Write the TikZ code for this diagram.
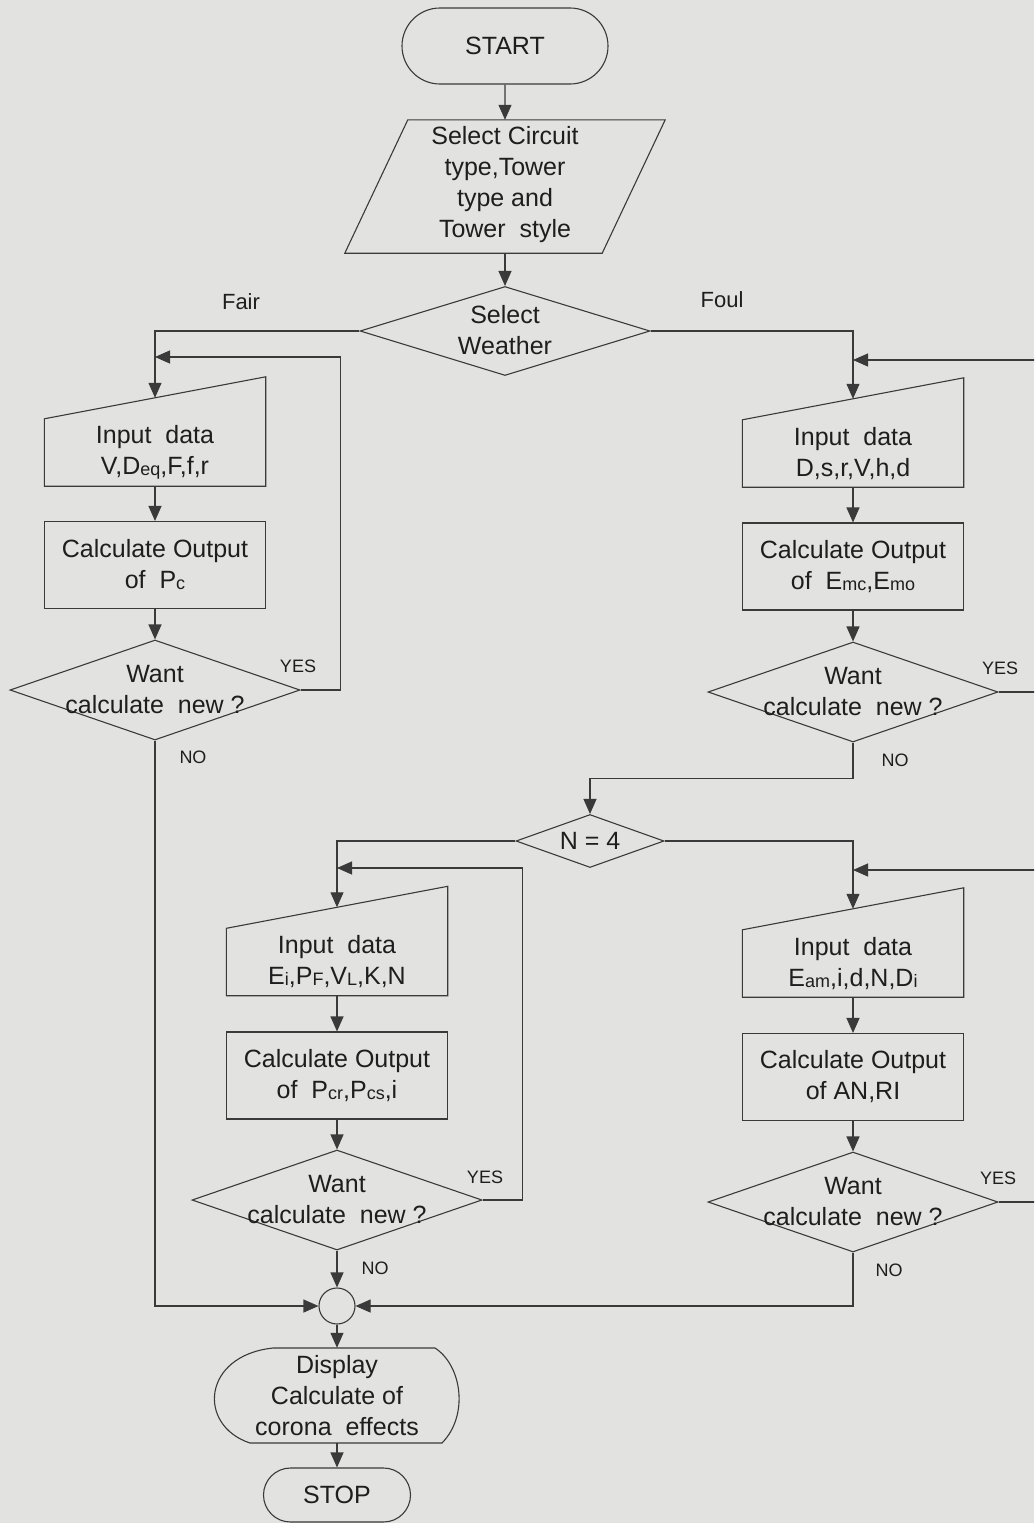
\documentclass[tikz,border=0pt]{standalone}
\usepackage{fontspec}
\setmainfont{Liberation Sans}
\usetikzlibrary{shapes.geometric,shapes.misc,arrows.meta,calc}
\definecolor{paper}{RGB}{226,226,224}
\definecolor{ink}{RGB}{58,58,58}
\definecolor{txtc}{RGB}{30,30,30}
\newcommand{\sbs}[1]{\raisebox{-1pt}{\fontsize{18}{18}\selectfont #1}}
\newcommand{\maninput}[4]{%
  \node[inv] (#1) at (#2,#3) {};
  \draw[shp] ([yshift=-42pt]#1.north west) -- (#1.south west) -- (#1.south east) -- (#1.north east) -- cycle;
  \node[txt] (#1t) at ([yshift=-21pt]#1.center) {#4};
  \coordinate (#1top) at ([yshift=-21pt]#1.north);
}
\begin{document}
\begin{tikzpicture}[x=1pt,y=-1pt,
  shp/.style={draw=ink, line width=1.1pt},
  inv/.style={rectangle, inner sep=0, minimum width=221, minimum height=109},
  txt/.style={font=\fontsize{25}{31}\selectfont, align=center, text=txtc, inner sep=0},
  lbl/.style={font=\fontsize{18}{18}\selectfont, text=txtc, inner sep=0},
  lblb/.style={font=\fontsize{22}{22}\selectfont, text=txtc, inner sep=0},
  conn/.style={draw=ink, line width=1.1pt},
  arr/.style={conn, -{Triangle[length=15pt,width=13pt]}},
  term/.style={shp, rounded rectangle, inner sep=0},
  proc/.style={shp, rectangle, minimum width=221, minimum height=87, inner sep=0},
  dec/.style={shp, diamond, inner sep=0, minimum width=290, minimum height=100},
]
\useasboundingbox (0,0) rectangle (1034,1523);
\fill[paper] (0,0) rectangle (1034,1523);
\clip (0,0) rectangle (1034,1523);

% top
\node[term, txt, minimum width=206, minimum height=76] (start) at (505,46) {START};
\node[rectangle, inner sep=0, minimum width=320, minimum height=133] (par) at (505,186.5) {};
\draw[shp] ([xshift=63pt]par.north west) -- (par.north east) -- ([xshift=-63pt]par.south east) -- (par.south west) -- cycle;
\node[txt] (part) at (505,185) {Select Circuit\\type,Tower\\type and\\Tower~ style};
\node[shp, diamond, inner sep=0, minimum width=290, minimum height=89] (wea) at (505,331) {};
\node[txt] (weat) at (505,330) {Select\\Weather};
\node[lblb] (fair) at (241,302) {Fair};
\node[lblb] (foul) at (722,300) {Foul};

% left column (fair)
\maninput{in1}{155}{431.5}{Input~~data\\V,D\sbs{eq},F,f,r}
\node[proc, txt] (calc1) at (155,565) {Calculate Output\\of~~P\sbs{c}};
\node[dec] (dec1) at (155,690) {};
\node[txt] (dec1t) at (155,690) {Want\\calculate~~new ?};
\coordinate (j1) at (155,357);
\node[lbl] (yes1) at (298,666) {YES};
\node[lbl] (no1) at (193,757) {NO};

% right column (foul)
\maninput{in2}{853}{432.5}{Input~~data\\D,s,r,V,h,d}
\node[proc, txt] (calc2) at (853,566.5) {Calculate Output\\of~~E\sbs{mc},E\sbs{mo}};
\node[dec] (dec2) at (853,692) {};
\node[txt] (dec2t) at (853,692) {Want\\calculate~~new ?};
\coordinate (j2) at (853,360);
\node[lbl] (yes2) at (1000,668) {YES};
\node[lbl] (no2) at (895,760) {NO};

% N = 4
\node[shp, diamond, inner sep=0, minimum width=148, minimum height=53] (n4) at (590,841) {};
\node[txt] (n4t) at (590,841) {N = 4};

% lower left
\maninput{in3}{337}{941}{Input~~data\\E\sbs{i},P\sbs{F},V\sbs{L},K,N}
\node[proc, txt] (calc3) at (337,1075.5) {Calculate Output\\of~~P\sbs{cr},P\sbs{cs},i};
\node[dec] (dec3) at (337,1200) {};
\node[txt] (dec3t) at (337,1200) {Want\\calculate~~new ?};
\coordinate (j3) at (337,868);
\node[lbl] (yes3) at (485,1177) {YES};
\node[lbl] (no3) at (375,1268) {NO};

% lower right
\maninput{in4}{853}{942.5}{Input~~data\\E\sbs{am},i,d,N,D\sbs{i}}
\node[proc, txt] (calc4) at (853,1077) {Calculate Output\\of AN,RI};
\node[dec] (dec4) at (853,1202) {};
\node[txt] (dec4t) at (853,1202) {Want\\calculate~~new ?};
\coordinate (j4) at (853,870);
\node[lbl] (yes4) at (998,1178) {YES};
\node[lbl] (no4) at (889,1270) {NO};

% bottom
\node[shp, circle, minimum size=36, inner sep=0] (circ) at (337,1306) {};
\node[rectangle, inner sep=0, minimum width=250, minimum height=95] (disp) at (337,1395.5) {};
\draw[shp, shift={(disp.center)}] (-64,-47.5) -- (98,-47.5)
   .. controls (125,-30) and (132,20) .. (105,47.5) -- (-87,47.5)
   .. controls (-140,30) and (-135,-40) .. (-64,-47.5) -- cycle;
\node[txt] (dispt) at (337,1396) {Display\\Calculate of\\corona~~effects};
\node[term, txt, minimum width=147, minimum height=54] (stop) at (337,1495) {STOP};

% connectors
\draw[arr] (start) -- (par);
\draw[arr] (par) -- (wea);
\draw[arr] (wea.west) -| (in1top);
\draw[arr] (wea.east) -| (in2top);
\draw[arr] (in1.south) -- (calc1.north);
\draw[arr] (calc1.south) -- (dec1.north);
\draw[arr] (dec1.east) -- ++(40,0) |- (j1);
\draw[arr] (dec1.south) |- (circ.west);

\draw[arr] (in2.south) -- (calc2.north);
\draw[arr] (calc2.south) -- (dec2.north);
\draw[arr] (dec2.east) -- (1050,692) |- (j2);
\draw[arr] (dec2.south) -- ++(0,36) -| (n4.north);

\draw[arr] (n4.west) -| (in3top);
\draw[arr] (n4.east) -| (in4top);

\draw[arr] (in3.south) -- (calc3.north);
\draw[arr] (calc3.south) -- (dec3.north);
\draw[arr] (dec3.east) -- ++(40,0) |- (j3);
\draw[arr] (dec3.south) -- (circ.north);

\draw[arr] (in4.south) -- (calc4.north);
\draw[arr] (calc4.south) -- (dec4.north);
\draw[arr] (dec4.east) -- (1050,1202) |- (j4);
\draw[arr] (dec4.south) |- (circ.east);

\draw[arr] (circ.south) -- (disp.north);
\draw[arr] (disp.south) -- (stop.north);
\end{tikzpicture}
\end{document}
